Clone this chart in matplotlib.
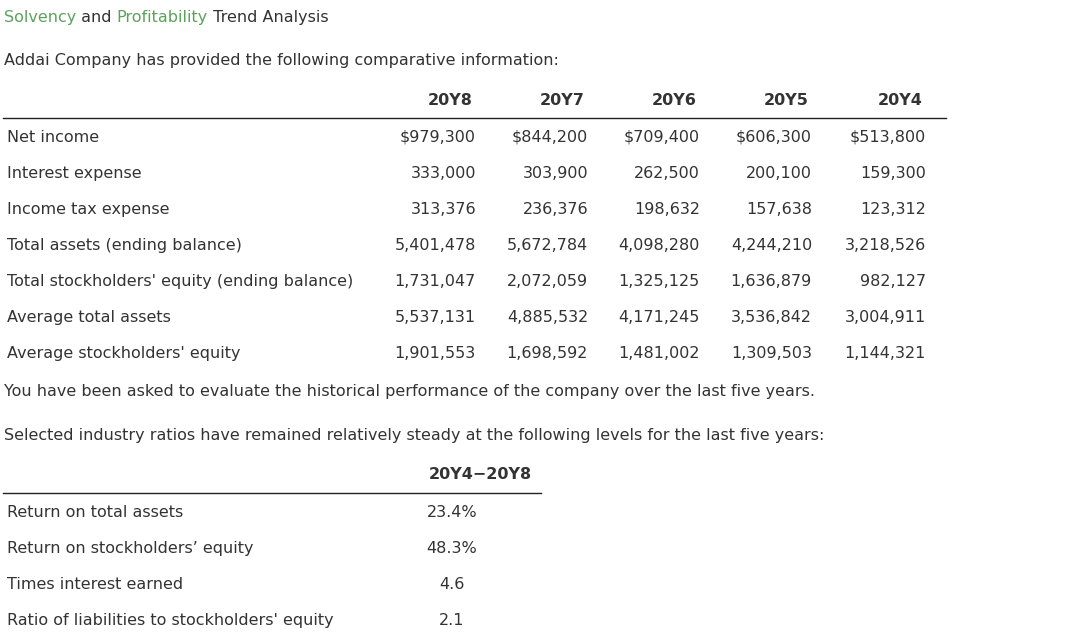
import matplotlib.pyplot as plt

# Comparative data (20Y8 .. 20Y4)
years = ['20Y8', '20Y7', '20Y6', '20Y5', '20Y4']
row_labels = [
    'Net income',
    'Interest expense',
    'Income tax expense',
    'Total assets (ending balance)',
    "Total stockholders' equity (ending balance)",
    'Average total assets',
    "Average stockholders' equity",
]
net_income = [979300, 844200, 709400, 606300, 513800]
interest_expense = [333000, 303900, 262500, 200100, 159300]
income_tax = [313376, 236376, 198632, 157638, 123312]
total_assets = [5401478, 5672784, 4098280, 4244210, 3218526]
total_equity = [1731047, 2072059, 1325125, 1636879, 982127]
avg_assets = [5537131, 4885532, 4171245, 3536842, 3004911]
avg_equity = [1901553, 1698592, 1481002, 1309503, 1144321]

ratio_labels = ['Return on total assets', 'Return on stockholders\u2019 equity',
                'Times interest earned', "Ratio of liabilities to stockholders' equity"]
ratio_values = ['23.4%', '48.3%', '4.6', '2.1']

W, H = 1081, 643
TXT = '#333333'
GREEN = '#5ba25b'
FS = 11.5

fig = plt.figure(figsize=(W / 100, H / 100), dpi=100)
fig.patch.set_facecolor('white')


def put(x, y, s, **kw):
    # y is the visual middle of the capitals; draw on a baseline below it
    kw.setdefault('color', TXT)
    kw.setdefault('fontsize', FS)
    kw.setdefault('va', 'baseline')
    return fig.text(x / W, 1 - (y + 5) / H, s, **kw)


def hline(x0, x1, y):
    fig.add_artist(plt.Line2D([x0 / W, x1 / W], [1 - y / H, 1 - y / H],
                              color='#222222', lw=1.0))


# title: each piece starts where the text before it ends
title_parts = [('Solvency', GREEN), (' and ', TXT), ('Profitability', GREEN), (' Trend Analysis', TXT)]
r = fig.canvas.get_renderer()
bar = put(4, 17, '|')
bar_w = bar.get_window_extent(r).width
bar.remove()
prefix = ''
for s, c in title_parts:
    off = 0
    if prefix:
        tmp = put(4, 17, prefix + '|')
        off = tmp.get_window_extent(r).width - bar_w
        tmp.remove()
    put(4 + off, 17, s, color=c)
    prefix += s

put(4, 60, 'Addai Company has provided the following comparative information:')

col_right = [476, 588, 700, 812, 926]
for x, yr in zip(col_right, years):
    put(x - 3, 100, yr, ha='right', fontweight='bold')
hline(3, 946, 118)

rows = [net_income, interest_expense, income_tax, total_assets,
        total_equity, avg_assets, avg_equity]
for i, (lab, vals) in enumerate(zip(row_labels, rows)):
    y = 137 + 36 * i
    put(7, y, lab)
    for x, v in zip(col_right, vals):
        s = f'${v:,}' if i == 0 else f'{v:,}'
        put(x, y, s, ha='right')

put(4, 391, 'You have been asked to evaluate the historical performance of the company over the last five years.')
put(4, 435, 'Selected industry ratios have remained relatively steady at the following levels for the last five years:')

put(480, 474, '20Y4\u221220Y8', ha='center', fontweight='bold')
hline(3, 541, 493)
for i, (lab, v) in enumerate(zip(ratio_labels, ratio_values)):
    y = 512 + 36 * i
    put(7, y, lab)
    put(452, y, v, ha='center')

fig.savefig('out.png', dpi=100, facecolor='white')
